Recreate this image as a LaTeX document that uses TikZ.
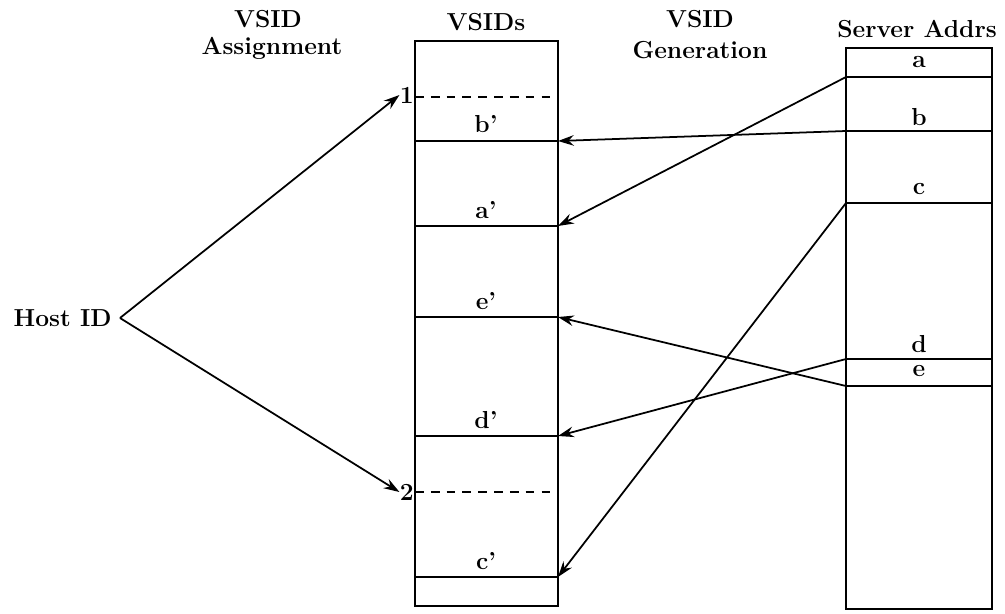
\documentclass[tikz,border=0pt]{standalone}
\usetikzlibrary{arrows.meta}
\begin{document}
\begin{tikzpicture}[x=0.02cm,y=-0.02cm,
  txt/.style={font=\fontsize{14}{16}\selectfont\bfseries, inner sep=0pt},
  box/.style={draw, line width=1pt},
  rowline/.style={line width=1pt},
  dashline/.style={dashed, line width=1pt, dash pattern=on 5pt off 4pt},
  conn/.style={line width=1pt, -{Stealth[length=9pt,width=6pt,inset=3pt]}}]
\useasboundingbox (0,0) rectangle (1005,613);
% titles
\node[txt] (t1a) at (268,19) {VSID};
\node[txt] (t1b) at (272,48) {Assignment};
\node[txt] (t2) at (486,22) {VSIDs};
\node[txt] (t3a) at (700,19) {VSID};
\node[txt] (t3b) at (700,50) {Generation};
\node[txt] (t4) at (917,29) {Server Addrs};
% VSIDs box
\draw[box] (415,41) rectangle (558,606);
\foreach \n/\yy in {vb/141, va/226, ve/317, vd/436, vc/577}{
  \coordinate (\n L) at (415,\yy);
  \coordinate (\n) at (558,\yy);
  \draw[rowline] (\n L) -- (\n);
}
\coordinate (d1L) at (415,97); \coordinate (d1R) at (558,97);
\coordinate (d2L) at (415,492); \coordinate (d2R) at (558,492);
\draw[dashline] (d1L) -- (d1R);
\draw[dashline] (d2L) -- (d2R);
\node[txt] at (486,124) {b'};
\node[txt] at (486,210) {a'};
\node[txt] at (486,301) {e'};
\node[txt] at (486,420) {d'};
\node[txt] at (486,561) {c'};
\node[txt, anchor=east] (one) at (414,95) {1};
\node[txt, anchor=east] (two) at (414,492) {2};
% Server box
\draw[box] (846,48) rectangle (992,609);
\foreach \n/\yy in {sa/77, sb/131, sc/203, sd/359, se/386}{
  \coordinate (\n) at (846,\yy);
  \coordinate (\n R) at (992,\yy);
  \draw[rowline] (\n) -- (\n R);
}
\node[txt] at (919,62) {a};
\node[txt] at (919,117) {b};
\node[txt] at (919,189) {c};
\node[txt] at (919,344) {d};
\node[txt] at (919,371) {e};
% Host ID
\node[txt, anchor=east] (host) at (112,318) {Host ID};
\coordinate (hp) at (120,318);
\draw[conn] (hp) -- (one.west);
\draw[conn] (hp) -- (two.west);
% generation arrows
\draw[conn] (sa) -- (va);
\draw[conn] (sb) -- (vb);
\draw[conn] (sc) -- (vc);
\draw[conn] (sd) -- (vd);
\draw[conn] (se) -- (ve);
\end{tikzpicture}
\end{document}
